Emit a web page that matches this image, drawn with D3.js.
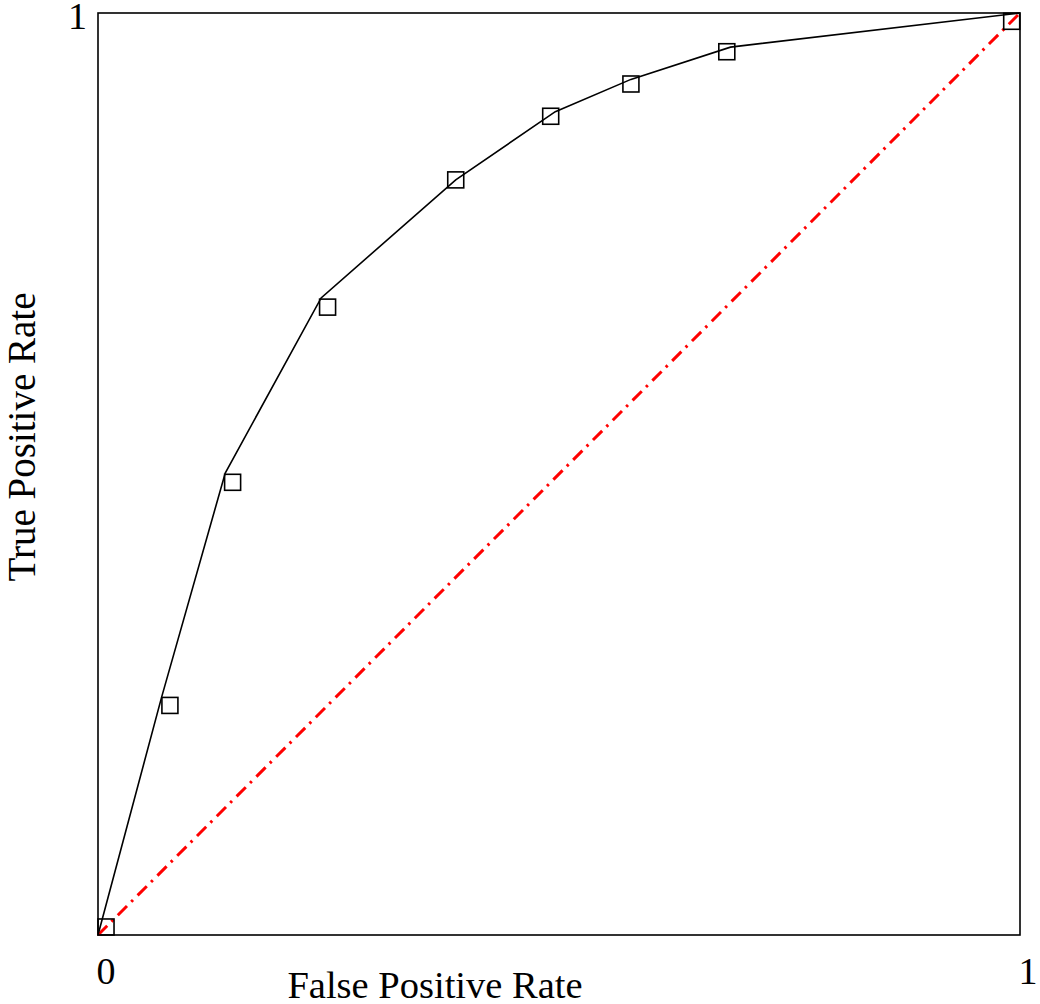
<!DOCTYPE html>
<html>
<head>
<meta charset="utf-8">
<script src="https://cdn.jsdelivr.net/npm/d3@7"></script>
<style>
  html, body { margin: 0; padding: 0; background: #fff; }
  svg { display: block; }
  text { font-family: "Liberation Serif", "DejaVu Serif", serif; fill: #000; }
</style>
</head>
<body>
<svg id="chart" width="1040" height="1004"></svg>
<script>
// ROC curve vertices
const curveFPR = [0, 0.069, 0.138, 0.242, 0.388, 0.496, 0.578, 0.686, 1];
const curveTPR = [0, 0.258, 0.501, 0.691, 0.819, 0.893, 0.928, 0.963, 1];
// square marker positions
const markerFPR = [0.0087, 0.078, 0.146, 0.249, 0.388, 0.491, 0.578, 0.682, 0.991];
const markerTPR = [0.0087, 0.249, 0.491, 0.681, 0.819, 0.888, 0.923, 0.958, 0.991];
// chance diagonal
const diagFPR = [0, 1];
const diagTPR = [0, 1];
// tick labels
const xTicks = [0, 1];
const xTickLabels = ["0", "1"];
const yTicks = [1];
const yTickLabels = ["1"];
const xTitle = "False Positive Rate";
const yTitle = "True Positive Rate";

const svg = d3.select("#chart");
const pL = 98, pR = 1020, pT = 13, pB = 935;
const x = d3.scaleLinear().domain([0, 1]).range([pL, pR]);
const y = d3.scaleLinear().domain([0, 1]).range([pB, pT]);

// frame
svg.append("rect")
  .attr("x", pL).attr("y", pT)
  .attr("width", pR - pL).attr("height", pB - pT)
  .attr("fill", "none").attr("stroke", "#000").attr("stroke-width", 1.6);

// diagonal
const line = d3.line().x(d => x(d[0])).y(d => y(d[1]));
svg.append("path")
  .datum(diagFPR.map((v, i) => [v, diagTPR[i]]))
  .attr("d", line)
  .attr("fill", "none").attr("stroke", "#ff0000")
  .attr("stroke-width", 3)
  .attr("stroke-dasharray", "13,6,2.5,6.5");

// ROC curve
svg.append("path")
  .datum(curveFPR.map((v, i) => [v, curveTPR[i]]))
  .attr("d", line)
  .attr("fill", "none").attr("stroke", "#000")
  .attr("stroke-width", 1.6)
  .attr("stroke-linejoin", "miter");

// markers
const ms = 16;
svg.append("g").selectAll("rect")
  .data(markerFPR.map((v, i) => [v, markerTPR[i]]))
  .join("rect")
  .attr("x", d => x(d[0]) - ms / 2)
  .attr("y", d => y(d[1]) - ms / 2)
  .attr("width", ms).attr("height", ms)
  .attr("fill", "none").attr("stroke", "#000").attr("stroke-width", 1.6);

// tick labels
svg.append("g").selectAll("text")
  .data(xTicks)
  .join("text")
  .attr("x", d => x(d) + 8)
  .attr("y", 984)
  .attr("text-anchor", "middle")
  .attr("font-size", 38)
  .text((d, i) => xTickLabels[i]);

svg.append("g").selectAll("text")
  .data(yTicks)
  .join("text")
  .attr("x", pL - 11)
  .attr("y", d => y(d) + 16)
  .attr("text-anchor", "end")
  .attr("font-size", 38)
  .text((d, i) => yTickLabels[i]);

// axis titles
svg.append("text")
  .attr("x", 435).attr("y", 998)
  .attr("text-anchor", "middle")
  .attr("font-size", 38.5)
  .text(xTitle);

svg.append("text")
  .attr("transform", "translate(35,437) rotate(-90)")
  .attr("text-anchor", "middle")
  .attr("font-size", 39)
  .text(yTitle);
</script>
</body>
</html>
